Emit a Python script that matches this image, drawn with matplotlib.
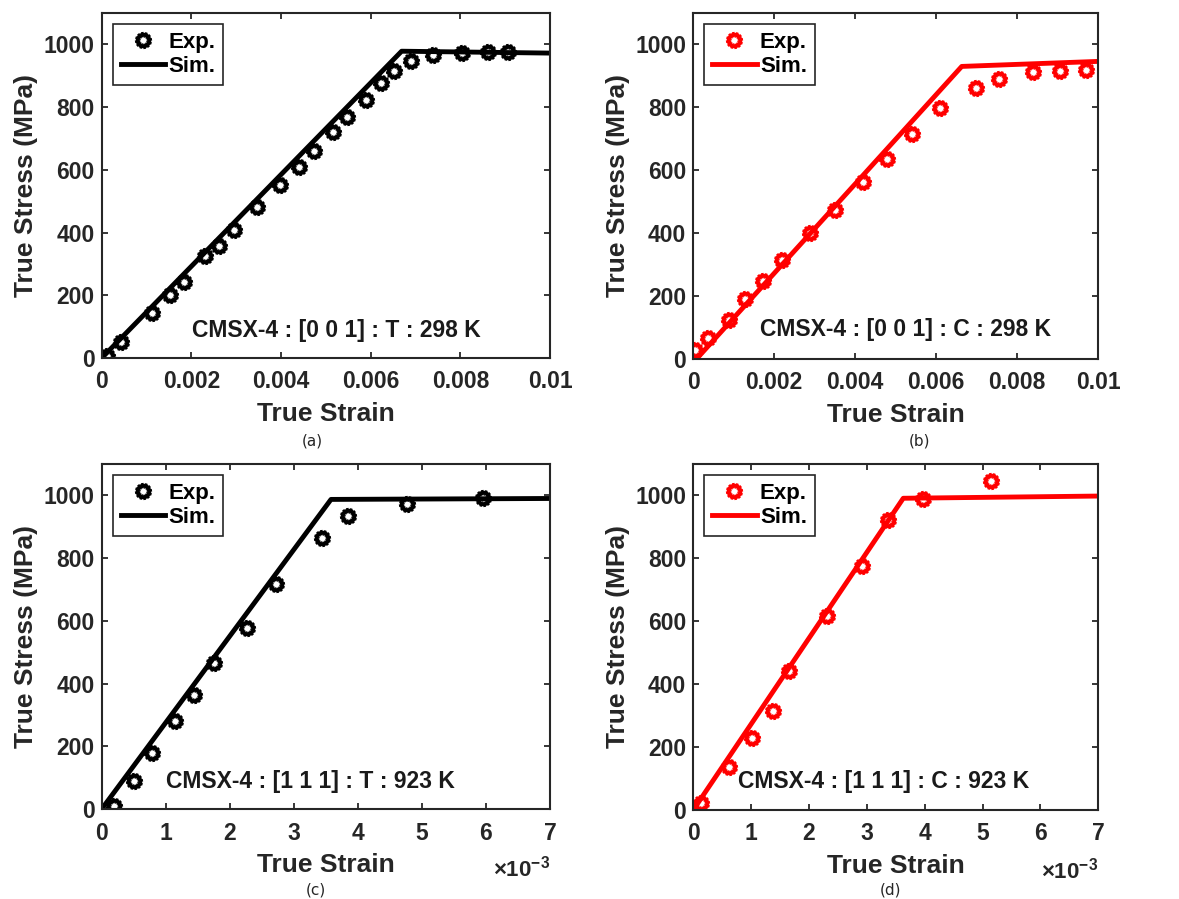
import numpy as np
import matplotlib
matplotlib.use('Agg')
import matplotlib.pyplot as plt
from matplotlib.path import Path
from matplotlib.markers import MarkerStyle

plt.rcParams['font.family'] = ['Liberation Sans', 'DejaVu Sans']
plt.rcParams['font.weight'] = 'bold'
plt.rcParams['axes.labelweight'] = 'bold'
plt.rcParams['mathtext.fontset'] = 'custom'
plt.rcParams['mathtext.rm'] = 'Liberation Sans'
plt.rcParams['mathtext.bf'] = 'Liberation Sans:bold'

# (a) CMSX-4 [0 0 1], tension, 298 K
exp_a_strain = [0.00011, 0.00042, 0.00112, 0.00152, 0.00184, 0.00231, 0.00262, 0.00294,
                0.00347, 0.00398, 0.00441, 0.00474, 0.00517, 0.00548, 0.00590, 0.00622,
                0.00652, 0.00691, 0.00740, 0.00804, 0.00862, 0.00906]
exp_a_stress = [7, 50, 143, 200, 243, 324, 358, 409, 481, 552, 610, 661, 719, 768, 823, 878,
                916, 948, 966, 973, 977, 977]
sim_a_strain = [0.0, 0.00669, 0.010]
sim_a_stress = [0, 978, 972]

# (b) CMSX-4 [0 0 1], compression, 298 K
exp_b_strain = [0.00004, 0.00037, 0.00088, 0.00128, 0.00171, 0.00220, 0.00288, 0.00350,
                0.00418, 0.00479, 0.00541, 0.00609, 0.00697, 0.00755, 0.00838, 0.00905, 0.00970]
exp_b_stress = [27, 67, 125, 190, 248, 315, 402, 474, 563, 637, 714, 798, 862, 891, 912, 914, 920]
sim_b_strain = [0.00008, 0.00663, 0.010]
sim_b_stress = [0, 930, 946]

# (c) CMSX-4 [1 1 1], tension, 923 K
exp_c_strain = [0.00019, 0.00051, 0.00078, 0.00115, 0.00144, 0.00175, 0.00227, 0.00272,
                0.00344, 0.00384, 0.00477, 0.00595]
exp_c_stress = [11, 88, 179, 280, 362, 464, 578, 718, 865, 934, 971, 993]
sim_c_strain = [0.0, 0.00358, 0.007]
sim_c_stress = [0, 987, 990]

# (d) CMSX-4 [1 1 1], compression, 923 K
exp_d_strain = [0.00014, 0.00062, 0.00101, 0.00137, 0.00166, 0.00232, 0.00291, 0.00337,
                0.00397, 0.00514]
exp_d_stress = [23, 138, 229, 314, 441, 617, 777, 923, 989, 1045]
sim_d_strain = [0.0, 0.00363, 0.007]
sim_d_stress = [0, 991, 998]

ticks_room = [0, 0.002, 0.004, 0.006, 0.008, 0.010]
ticklabels_room = ['0', '0.002', '0.004', '0.006', '0.008', '0.01']
ticks_hot = [0, 0.001, 0.002, 0.003, 0.004, 0.005, 0.006, 0.007]
ticklabels_hot = ['0', '1', '2', '3', '4', '5', '6', '7']
stress_ticks = [0, 200, 400, 600, 800, 1000]

titles = ['CMSX-4 : [0 0 1] : T : 298 K', 'CMSX-4 : [0 0 1] : C : 298 K',
          'CMSX-4 : [1 1 1] : T : 923 K', 'CMSX-4 : [1 1 1] : C : 923 K']
tags = ['(a)', '(b)', '(c)', '(d)']


def dotted_ring(n=12, r_out=(1.0, 0.9), r_in=(0.34, 0.43)):
    # ring with notched edges, like a circle drawn with a dotted edge
    per = 2 * np.pi / n
    outer, inner = [], []
    for k in range(n):
        a0, a1 = k * per, k * per + 0.6 * per
        outer += [(r_out[1], a0), (r_out[0], a0), (r_out[0], a1), (r_out[1], a1)]
        inner += [(r_in[1], a0), (r_in[0], a0), (r_in[0], a1), (r_in[1], a1)]
    inner = inner[::-1]
    verts, codes = [], []
    for ring in (outer, inner):
        pts = [(r * np.cos(a), r * np.sin(a)) for r, a in ring]
        verts += pts + [pts[0]]
        codes += [Path.MOVETO] + [Path.LINETO] * (len(pts) - 1) + [Path.CLOSEPOLY]
    return MarkerStyle(Path(verts, codes))


ring = dotted_ring()

fig = plt.figure(figsize=(11.79, 8.99), dpi=100)

panels = [
    ([0.0863, 0.6018, 0.3802, 0.3838], exp_a_strain, exp_a_stress, sim_a_strain, sim_a_stress,
     'black', ticks_room, ticklabels_room, 0.010, (0.523, 0.081)),
    ([0.5880, 0.6007, 0.3435, 0.3849], exp_b_strain, exp_b_stress, sim_b_strain, sim_b_stress,
     'red', ticks_room, ticklabels_room, 0.010, (0.525, 0.084)),
    ([0.0863, 0.1001, 0.3802, 0.3838], exp_c_strain, exp_c_stress, sim_c_strain, sim_c_stress,
     'black', ticks_hot, ticklabels_hot, 0.007, (0.465, 0.079)),
    ([0.5880, 0.0990, 0.3435, 0.3849], exp_d_strain, exp_d_stress, sim_d_strain, sim_d_stress,
     'red', ticks_hot, ticklabels_hot, 0.007, (0.469, 0.082)),
]

for i, (rect, ex, ey, sx, sy, color, xt, xtl, xmax, tpos) in enumerate(panels):
    ax = fig.add_axes(rect)
    ax.plot(ex, ey, linestyle='none', marker=ring, ms=12.5, mfc=color, mec='none',
            label='Exp.')
    ax.plot(sx, sy, color=color, lw=3.5, label='Sim.')

    ax.set_xlim(0, xmax)
    ax.set_ylim(0, 1100)
    ax.set_xticks(xt)
    ax.set_xticklabels(xtl)
    ax.set_yticks(stress_ticks)
    ax.tick_params(direction='in', length=4.5, width=1.3, top=True, right=True,
                   labelsize=16.5, colors='#262626')
    ax.tick_params(axis='x', pad=9)
    ax.tick_params(axis='y', pad=5)
    for s in ax.spines.values():
        s.set_linewidth(1.5)
        s.set_color('#262626')

    ax.set_xlabel('True Strain', fontsize=19, color='#262626', labelpad=6)
    ax.set_ylabel('True Stress (MPa)', fontsize=19, color='#262626', labelpad=4)

    ax.text(tpos[0], tpos[1], titles[i], transform=ax.transAxes, ha='center', va='center',
            fontsize=16.5, color='#1a1a1a')

    leg = ax.legend(loc='upper left', fontsize=16, handlelength=2.0, handletextpad=0.15,
                    borderpad=0.35, labelspacing=0.15, fancybox=False, framealpha=1,
                    edgecolor='#262626', borderaxespad=0.5, numpoints=1)
    leg.get_frame().set_linewidth(1.2)

    if xmax < 0.01:
        ax.text(1.0, -0.197, r'$\times\mathbf{10^{-3}}$', transform=ax.transAxes,
                ha='right', va='baseline', fontsize=16, color='#262626')

tag_pos = [(0.2646, 0.5095), (0.7795, 0.5095), (0.2678, 0.0095), (0.7549, 0.0100)]
for tag, (tx, ty) in zip(tags, tag_pos):
    fig.text(tx, ty, tag, ha='center', va='center', fontsize=11, fontweight='normal',
             family='DejaVu Sans', color='#262626')

fig.savefig('out.png', dpi=100)
